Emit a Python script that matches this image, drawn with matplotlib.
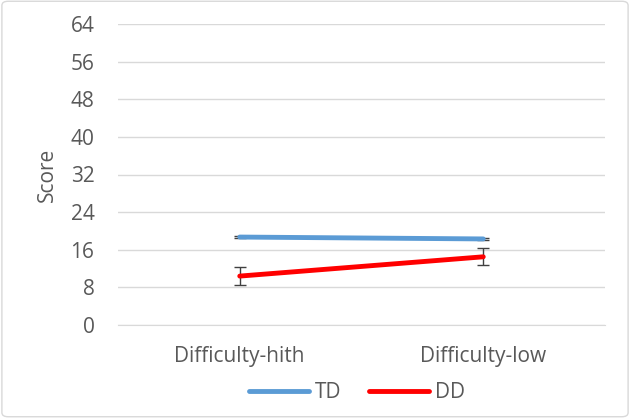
import numpy as np
import matplotlib.pyplot as plt
from matplotlib.lines import Line2D
from matplotlib.patches import FancyBboxPatch

# data
categories = ['Difficulty-hith', 'Difficulty-low']
td_mean = [18.7, 18.3]
td_err = [0.3, 0.3]
dd_mean = [10.4, 14.5]
dd_err = [1.9, 1.8]
yticks = [0, 8, 16, 24, 32, 40, 48, 56, 64]

plt.rcParams['font.family'] = ['Open Sans', 'DejaVu Sans']
grey = '#595959'
blue = '#5B9BD5'
red = '#FF0000'

fig = plt.figure(figsize=(6.3, 4.18), dpi=100)
ax = fig.add_axes([118 / 630, 1 - 325 / 418, 487 / 630, 301 / 418])

x = np.arange(len(categories))
ax.errorbar(x, td_mean, yerr=td_err, color=blue, lw=3.5, ecolor='#404040',
            elinewidth=1, capsize=4.5, capthick=1, solid_capstyle='round')
ax.errorbar(x, dd_mean, yerr=dd_err, color=red, lw=3.5, ecolor='#404040',
            elinewidth=1, capsize=4.5, capthick=1, solid_capstyle='round')

ax.set_xlim(-0.5, 1.5)
ax.set_ylim(0, 64)
ax.set_yticks(yticks)
ax.set_xticks(x)
ax.set_xticklabels(categories)
ax.grid(axis='y', color='#D9D9D9', lw=1)
ax.set_axisbelow(True)
for s in ['top', 'right', 'left']:
    ax.spines[s].set_visible(False)
ax.spines['bottom'].set_color('#D9D9D9')
ax.tick_params(axis='both', length=0, colors=grey, labelsize=15)
ax.tick_params(axis='y', pad=17)
ax.tick_params(axis='x', pad=15)
ax.set_ylabel('Score', color=grey, fontsize=15, labelpad=9)

handles = [Line2D([], [], color=blue, lw=3.5, solid_capstyle='round'),
           Line2D([], [], color=red, lw=3.5, solid_capstyle='round')]
leg = fig.legend(handles, ['TD', 'DD'], loc='center', bbox_to_anchor=(357 / 630, 1 - 393 / 418),
                 ncol=2, frameon=False, fontsize=15, handlelength=2.9,
                 columnspacing=1.3, handletextpad=0.3)
for t in leg.get_texts():
    t.set_color(grey)

border = FancyBboxPatch((0.003, 0.003), 0.994, 0.994, boxstyle='round,pad=0,rounding_size=0.01',
                        transform=fig.transFigure, fill=False, edgecolor='#D9D9D9', lw=1)
fig.patches.append(border)

fig.savefig('out.png', dpi=100)
